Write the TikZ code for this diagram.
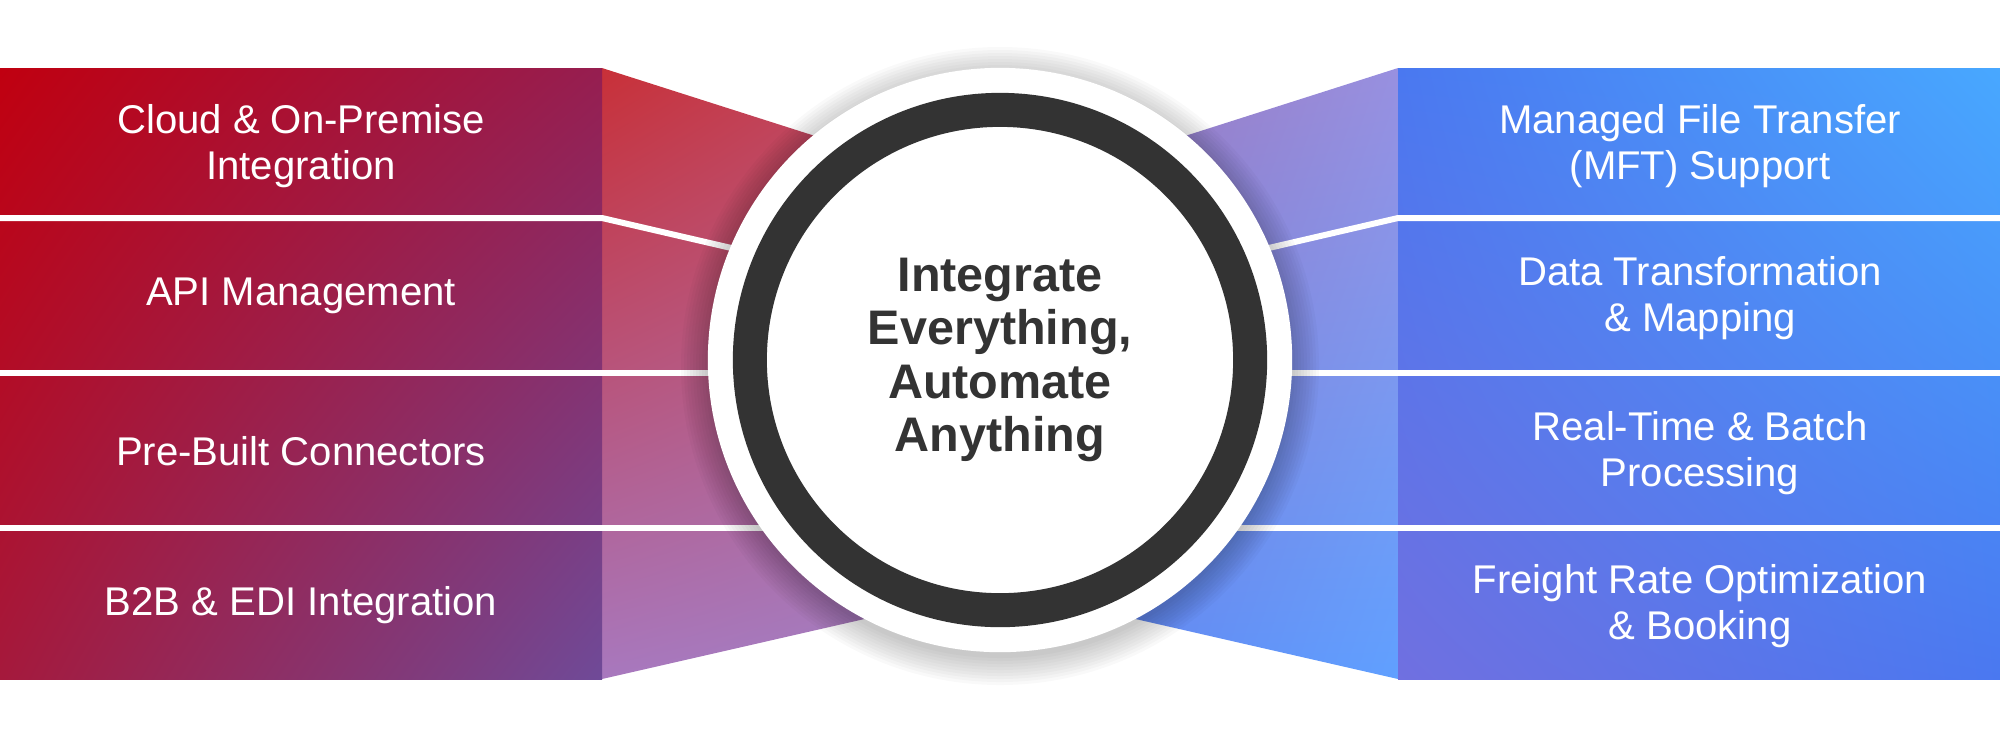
\documentclass[tikz,border=0pt]{standalone}
\usepackage{fontspec}
\setmainfont{Liberation Sans}
\usepackage{xcolor}
\definecolor{color0}{RGB}{192,0,16}
\definecolor{color1}{RGB}{150,30,80}
\definecolor{color2}{RGB}{165,25,60}
\definecolor{color3}{RGB}{111,74,152}
\definecolor{color4}{RGB}{74,120,240}
\definecolor{color5}{RGB}{72,168,255}
\definecolor{color6}{RGB}{112,112,224}
\definecolor{color7}{RGB}{51,51,51}
\definecolor{wedgeL0}{RGB}{200,48,56}
\definecolor{wedgeL1}{RGB}{190,80,110}
\definecolor{wedgeL2}{RGB}{168,120,190}
\definecolor{wedgeL3}{RGB}{160,130,200}
\definecolor{wedgeR0}{RGB}{160,112,176}
\definecolor{wedgeR1}{RGB}{152,144,224}
\definecolor{wedgeR2}{RGB}{96,128,240}
\definecolor{wedgeR3}{RGB}{96,160,255}
\usetikzlibrary{positioning,shadings}
\tikzstyle{bar text}=[text=white,align=center,font=\fontsize{11.4}{13.2}\selectfont]
\tikzstyle{divider}=[draw=white,line width=0.6mm]
\tikzstyle{hub text}=[text=color7,align=center,font=\fontsize{13.8}{15.2}\selectfont\bfseries]

\begin{document}
\begin{tikzpicture}[x=0.01cm,y=-0.01cm]
\useasboundingbox (0,0) rectangle (2000,744);

    % wedges behind the hub
    \shade[upper left=wedgeL0, upper right=wedgeL1, lower left=wedgeL2, lower right=wedgeL3]
        (602,68) -- (1000,195) -- (1000,588) -- (602,679) -- cycle;
    \shade[upper left=wedgeR0, upper right=wedgeR1, lower left=wedgeR2, lower right=wedgeR3]
        (1398,68) -- (1000,195) -- (1000,588) -- (1398,679) -- cycle;

    % bars
    \shade[upper left=color0, upper right=color1, lower left=color2, lower right=color3]
        (0,68) rectangle (602,679);
    \shade[upper left=color4, upper right=color5, lower left=color6, lower right=color4]
        (1398,68) rectangle (2000,679);

    % dividers
    \draw[divider] (0,218) -- (602,218) -- (740,250);
    \draw[divider] (2000,218) -- (1398,218) -- (1260,250);
    \foreach \y in {373,528}
        \draw[divider] (0,\y) -- (2000,\y);

    % hub
    \foreach \r in {0,...,9}
        \fill[black,opacity=0.025] (1000,366) circle[radius=292+3*\r];
    \node[circle,fill=white,minimum size=5.84cm,inner sep=0pt] (hub) at (1000,360) {};
    \node[circle,draw=color7,line width=0.34cm,fill=white,minimum size=5cm,inner sep=0pt] (ring) at (hub) {};
    \node[hub text] (hub-title) at (hub) {Integrate\\Everything,\\Automate\\Anything};

    % labels
    \node[bar text] (L-1) at (301,146) {Cloud \& On-Premise\\Integration};
    \node[bar text] (L-2) at (301,296) {API Management};
    \node[bar text] (L-3) at (301,451) {Pre-Built Connectors};
    \node[bar text] (L-4) at (301,605) {B2B \& EDI Integration};

    \node[bar text] (R-1) at (1700,146) {Managed File Transfer\\(MFT) Support};
    \node[bar text] (R-2) at (1700,298) {Data Transformation\\\& Mapping};
    \node[bar text] (R-3) at (1700,453) {Real-Time \& Batch\\Processing};
    \node[bar text] (R-4) at (1700,606) {Freight Rate Optimization\\\& Booking};

\end{tikzpicture}
\end{document}
